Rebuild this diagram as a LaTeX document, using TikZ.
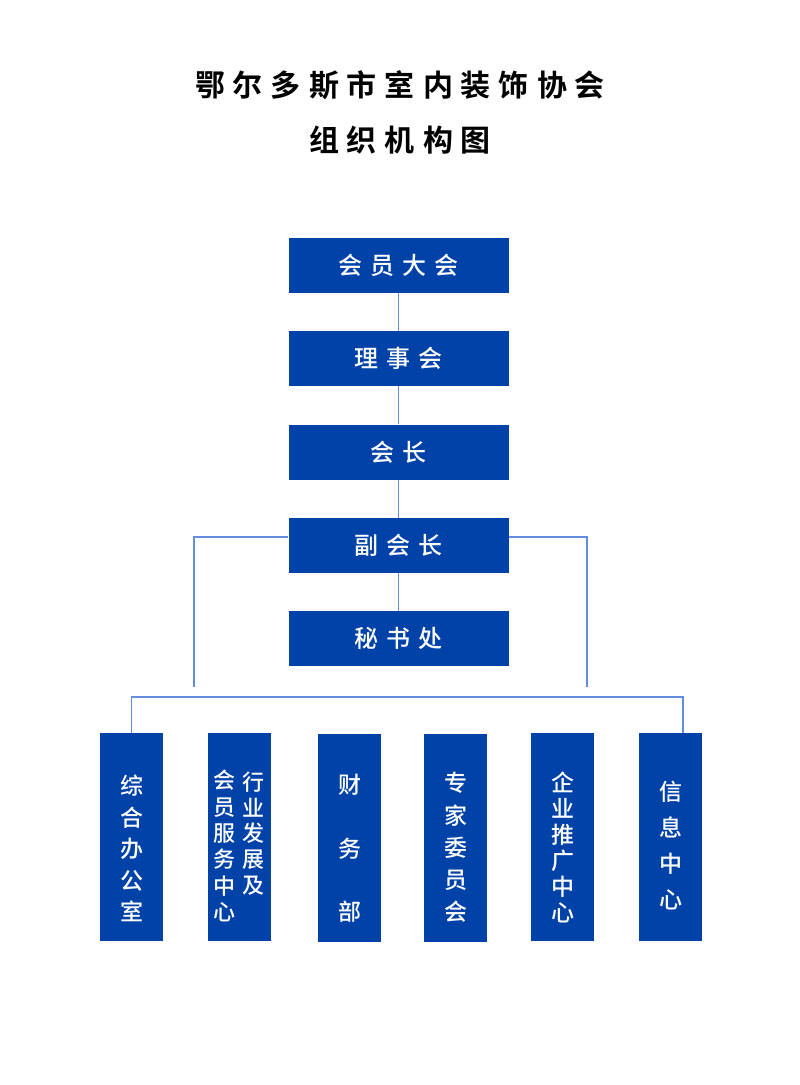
\documentclass[tikz,border=0pt]{standalone}
\usepackage{fontspec}
\setmainfont{Noto Sans CJK SC}[BoldFont={Noto Sans CJK SC Bold}]
\newfontfamily\boxfont{Noto Sans CJK SC Medium}
\newcommand\lsp{\hspace{8pt}}
\newcommand\tsp{\hspace{8pt}}
\definecolor{boxblue}{RGB}{0,66,168}
\definecolor{lineblue}{RGB}{100,140,225}
\begin{document}
\begin{tikzpicture}[x=1pt,y=-1pt,
  topbox/.style={fill=boxblue, minimum width=220pt, minimum height=55pt, inner sep=0pt, text=white, font=\boxfont\fontsize{24}{28}\selectfont},
  subbox/.style={fill=boxblue, minimum width=63pt, minimum height=208pt, inner sep=0pt},
  coltext/.style={text=white, align=center, inner sep=0pt},
  link/.style={draw=lineblue, line width=1.5pt},
  titletext/.style={font=\fontsize{30}{36}\selectfont\bfseries, inner sep=0pt}]
\fill[white] (0,0) rectangle (800,1085);
\useasboundingbox (0,0) rectangle (800,1085);

% title
\node[titletext] (title1) at (400,85) {鄂\tsp 尔\tsp 多\tsp 斯\tsp 市\tsp 室\tsp 内\tsp 装\tsp 饰\tsp 协\tsp 会};
\node[titletext] (title2) at (400,140) {组\tsp 织\tsp 机\tsp 构\tsp 图};

% top chain
\node[topbox] (hydh) at (398.5,265.5) {会\lsp 员\lsp 大\lsp 会};
\node[topbox] (lsh)  at (398.5,358.5) {理\lsp 事\lsp 会};
\node[topbox] (hz)   at (398.5,452)   {会\lsp 长};
\node[topbox] (fhz)  at (398.5,545.5) {副\lsp 会\lsp 长};
\node[topbox] (msc)  at (398.5,638.5) {秘\lsp 书\lsp 处};

\draw[link] (hydh.south) -- (lsh.north);
\draw[link] (lsh.south) -- (hz.north);
\draw[link] (hz.south) -- (fhz.north);
\draw[link] (fhz.south) -- (msc.north);

% side lines from vice president
\coordinate (lend) at (194,687);
\coordinate (rend) at (587,687);
\draw[link] ([yshift=8.5pt]fhz.west) -| (lend);
\draw[link] ([yshift=8.5pt]fhz.east) -| (rend);

% bottom boxes
\node[subbox] (b1) at (131.5,837) {};
\node[subbox] (b2) at (239.5,837) {};
\node[subbox] (b3) at (349.5,838) {};
\node[subbox] (b4) at (455.5,838) {};
\node[subbox] (b5) at (562.5,837) {};
\node[subbox] (b6) at (670.5,837) {};

\node[coltext, font=\boxfont\fontsize{23}{31.5}\selectfont] (t1) at (131.5,848.5) {综\\合\\办\\公\\室};
\node[coltext, font=\boxfont\fontsize{22}{26.4}\selectfont] (t2a) at (224,846) {会\\员\\服\\务\\中\\心};
\node[coltext, font=\boxfont\fontsize{22}{25.75}\selectfont] (t2b) at (253,833.5) {行\\业\\发\\展\\及};
\node[coltext, font=\boxfont\fontsize{23}{63.5}\selectfont] (t3) at (349.5,848.5) {财\\务\\部};
\node[coltext, font=\boxfont\fontsize{23}{32.25}\selectfont] (t4) at (455.5,847.5) {专\\家\\委\\员\\会};
\node[coltext, font=\boxfont\fontsize{23}{26}\selectfont] (t5) at (562.5,847) {企\\业\\推\\广\\中\\心};
\node[coltext, font=\boxfont\fontsize{23}{36}\selectfont] (t6) at (670.5,846) {信\\息\\中\\心};

% bus line
\coordinate (busl) at (131.5,697);
\coordinate (busr) at (683,697);
\draw[link] (b1.north) -- (busl) -- (busr) -- (busr |- b6.north);
\end{tikzpicture}
\end{document}
